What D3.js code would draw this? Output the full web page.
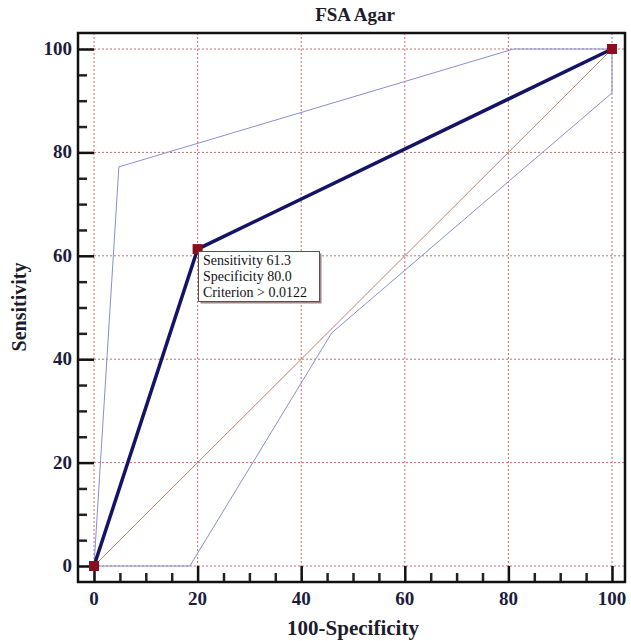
<!DOCTYPE html>
<html>
<head>
<meta charset="utf-8">
<script src="https://cdn.jsdelivr.net/npm/d3@7"></script>
<style>
  body { margin: 0; background: #fff; }
  text { font-family: "Liberation Serif", "Times New Roman", serif; }
</style>
</head>
<body>
<svg id="chart"></svg>
<script>
// ROC curve points (100-Specificity, Sensitivity)
let rocX = [0, 20, 100];
let rocY = [0, 61.3, 100];

// confidence bounds
let upperX = [0, 4.8, 81, 100];
let upperY = [0, 77.2, 100, 100];
let lowerX = [0, 18.5, 45.9, 100, 100];
let lowerY = [0, 0, 45.1, 91.5, 100];

// tick values
let majorTicks = [0, 20, 40, 60, 80, 100];
let minorTicks = d3.range(0, 101, 5).filter(v => v % 20 != 0);

let noteLines = ['Sensitivity 61.3', 'Specificity 80.0', 'Criterion > 0.0122'];

let canvas = { width: 631, height: 641 };
let box = { left: 78, top: 33, right: 625, bottom: 582 };

let svg = d3.select('#chart')
  .attr('width', canvas.width)
  .attr('height', canvas.height);

let xScale = d3.scaleLinear().domain([0, 100]).range([94, 612]);
let yScale = d3.scaleLinear().domain([0, 100]).range([566, 49]);

//grid
majorTicks.forEach(v => {
  svg.append('line')
    .attr('x1', xScale(v)).attr('x2', xScale(v))
    .attr('y1', box.top).attr('y2', box.bottom)
    .attr('stroke', '#c07070').attr('stroke-width', 1)
    .attr('stroke-dasharray', '2,2');
  svg.append('line')
    .attr('x1', box.left).attr('x2', box.right)
    .attr('y1', yScale(v)).attr('y2', yScale(v))
    .attr('stroke', '#c07070').attr('stroke-width', 1)
    .attr('stroke-dasharray', '2,2');
});

//diagonal reference
svg.append('line')
  .attr('x1', xScale(0)).attr('y1', yScale(0))
  .attr('x2', xScale(100)).attr('y2', yScale(100))
  .attr('stroke', '#b58275').attr('stroke-width', 1);

let line = d3.line().x(d => xScale(d[0])).y(d => yScale(d[1]));

//confidence bands
svg.append('path')
  .attr('d', line(d3.zip(upperX, upperY)))
  .attr('fill', 'none').attr('stroke', '#8a8ed0').attr('stroke-width', 1);
svg.append('path')
  .attr('d', line(d3.zip(lowerX, lowerY)))
  .attr('fill', 'none').attr('stroke', '#8a8ed0').attr('stroke-width', 1);

//roc curve
svg.append('path')
  .attr('d', line(d3.zip(rocX, rocY)))
  .attr('fill', 'none').attr('stroke', '#141466').attr('stroke-width', 3.5);

//frame
svg.append('rect')
  .attr('x', box.left).attr('y', box.top)
  .attr('width', box.right - box.left).attr('height', box.bottom - box.top)
  .attr('fill', 'none').attr('stroke', '#111').attr('stroke-width', 2.5);

//axes ticks
let yAxis = d3.axisRight(yScale).tickValues(majorTicks).tickSize(xScale(0) - box.left).tickFormat('');
svg.append('g').attr('transform', 'translate(' + box.left + ',0)').call(yAxis)
  .call(g => g.select('.domain').remove())
  .selectAll('line').attr('stroke', '#111').attr('stroke-width', 2.5);
let yMinor = d3.axisRight(yScale).tickValues(minorTicks).tickSize(8).tickFormat('');
svg.append('g').attr('transform', 'translate(' + (box.left + 1) + ',0)').call(yMinor)
  .call(g => g.select('.domain').remove())
  .selectAll('line').attr('stroke', '#222').attr('stroke-width', 2.5);

let xAxis = d3.axisTop(xScale).tickValues(majorTicks).tickSize(box.bottom - yScale(0)).tickFormat('');
svg.append('g').attr('transform', 'translate(0,' + box.bottom + ')').call(xAxis)
  .call(g => g.select('.domain').remove())
  .selectAll('line').attr('stroke', '#111').attr('stroke-width', 2.5);
let xMinor = d3.axisTop(xScale).tickValues(minorTicks).tickSize(8).tickFormat('');
svg.append('g').attr('transform', 'translate(0,' + (box.bottom - 1) + ')').call(xMinor)
  .call(g => g.select('.domain').remove())
  .selectAll('line').attr('stroke', '#222').attr('stroke-width', 2.5);

//tick labels
svg.selectAll('.xlab').data(majorTicks).enter().append('text')
  .attr('x', d => xScale(d)).attr('y', 605)
  .attr('text-anchor', 'middle')
  .style('font-size', '19px').style('font-weight', 'bold').attr('fill', '#1c1c3c')
  .text(d => d);
svg.selectAll('.ylab').data(majorTicks).enter().append('text')
  .attr('x', 72).attr('y', d => yScale(d) + 6)
  .attr('text-anchor', 'end')
  .style('font-size', '19px').style('font-weight', 'bold').attr('fill', '#1c1c3c')
  .text(d => d);

//markers
svg.selectAll('.pt').data(d3.zip(rocX, rocY)).enter().append('rect')
  .attr('x', d => xScale(d[0]) - 5).attr('y', d => yScale(d[1]) - 5)
  .attr('width', 10).attr('height', 10)
  .attr('fill', '#8a0f1e');

//annotation
let note = svg.append('g');
note.append('rect').attr('x', 200.5).attr('y', 253.5).attr('width', 121).attr('height', 50).attr('fill', '#9a8a8a');
note.append('rect').attr('x', 198.5).attr('y', 251.5).attr('width', 121).attr('height', 50)
  .attr('fill', '#fff').attr('stroke', '#6b4a4a').attr('stroke-width', 1);
note.selectAll('text').data(noteLines).enter().append('text')
  .attr('x', 203).attr('y', (d, i) => 265 + i * 16)
  .style('font-size', '14px').attr('fill', '#111')
  .text(d => d);

//titles
svg.append('text').attr('x', 355).attr('y', 21).attr('text-anchor', 'middle')
  .style('font-size', '19px').style('font-weight', 'bold').attr('fill', '#1c1c2c').text('FSA Agar');
svg.append('text').attr('x', 353).attr('y', 635).attr('text-anchor', 'middle')
  .style('font-size', '21px').style('font-weight', 'bold').attr('fill', '#1c1c2c').text('100-Specificity');
svg.append('text').attr('transform', 'translate(26,307) rotate(-90)').attr('text-anchor', 'middle')
  .style('font-size', '20px').style('font-weight', 'bold').attr('fill', '#1c1c2c').text('Sensitivity');
</script>
</body>
</html>
